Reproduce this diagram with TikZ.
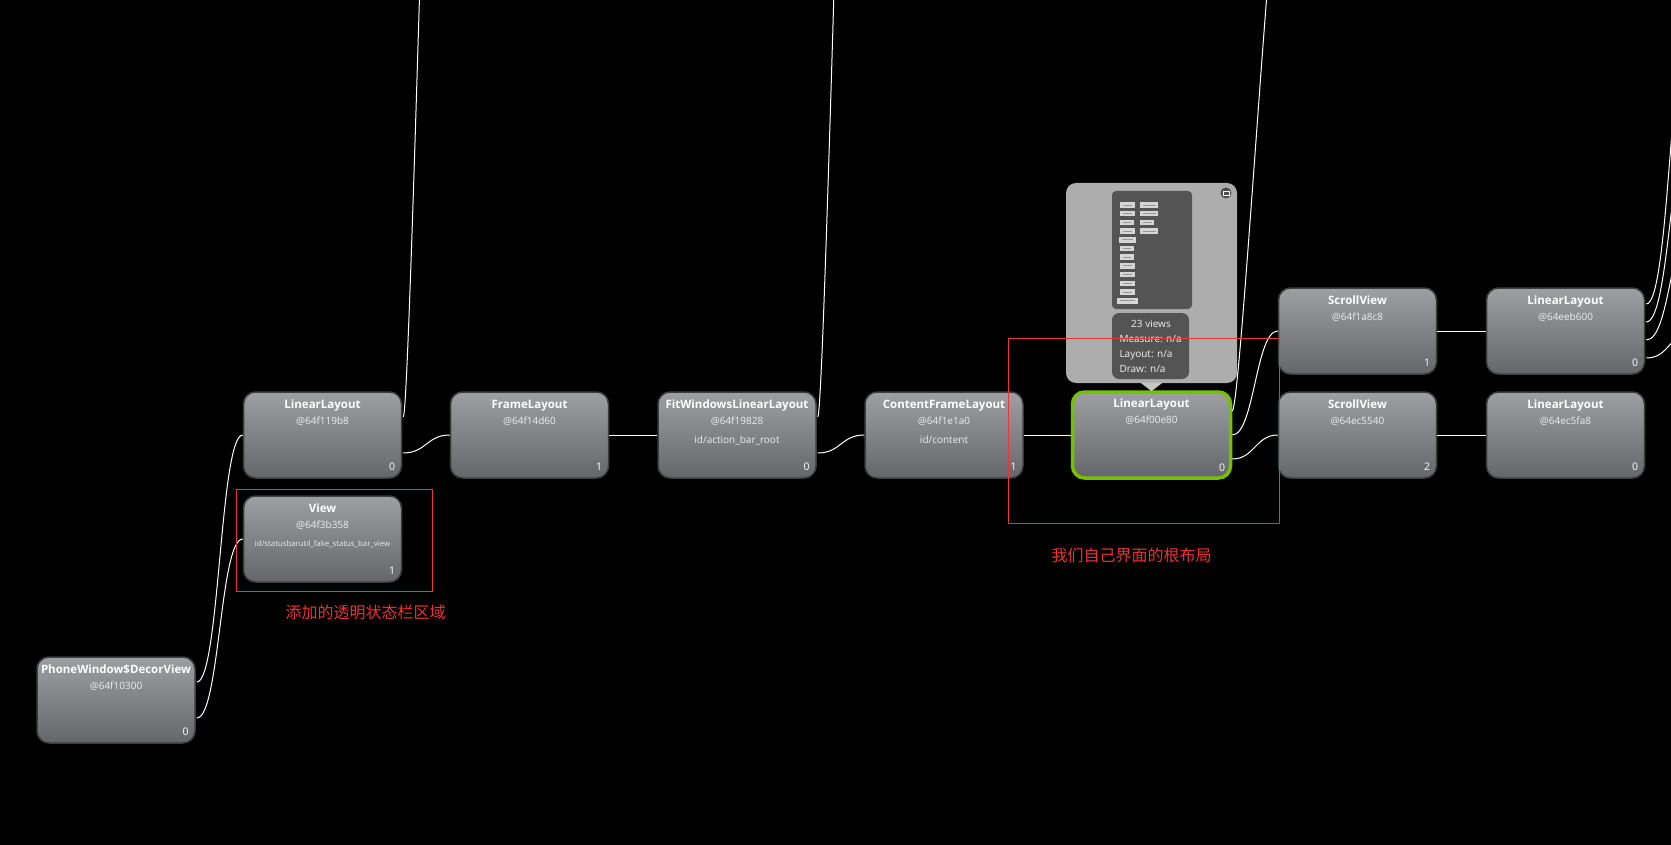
\documentclass[tikz,border=0pt]{standalone}
\usepackage{fontspec}
\setmainfont{Open Sans}
\newfontfamily\cjkfont{Noto Sans CJK SC}
\usetikzlibrary{calc}
\definecolor{hvtop}{RGB}{157,159,162}
\definecolor{hvbot}{RGB}{100,102,106}
\definecolor{hvedge}{RGB}{60,61,63}
\definecolor{hvgreen}{RGB}{118,192,0}
\definecolor{hvred}{RGB}{235,52,52}
\definecolor{tipgray}{RGB}{173,173,173}
\definecolor{tipdark}{RGB}{84,84,84}
\definecolor{minibox}{RGB}{214,214,214}
\definecolor{miniink}{RGB}{150,150,150}
\tikzset{
  hvbox/.style={rectangle, rounded corners=12pt, minimum width=158pt, minimum height=86pt,
    top color=hvtop, bottom color=hvbot, draw=hvedge, line width=1.5pt, inner sep=0pt},
  hvsel/.style={draw=hvgreen, line width=3.5pt},
  hvtitle/.style={text=white, font=\fontsize{11.5}{13}\selectfont\bfseries, inner sep=0pt, anchor=base},
  hvaddr/.style={text=white!93!black, font=\fontsize{10}{12}\selectfont, inner sep=0pt, anchor=base},
  hvid/.style={text=white!93!black, font=\fontsize{10}{12}\selectfont, inner sep=0pt, anchor=base},
  hvidsmall/.style={text=white!93!black, font=\fontsize{7.8}{9}\selectfont, inner sep=0pt, anchor=base},
  hvidx/.style={text=white, font=\fontsize{10.5}{12}\selectfont, inner sep=0pt, anchor=base east},
  conn/.style={draw=white, line width=1pt},
  redbox/.style={draw=hvred, line width=1pt, rectangle, inner sep=0pt},
  redtext/.style={text=hvred, font=\cjkfont\fontsize{16}{18}\selectfont, inner sep=0pt},
  tipbox/.style={rectangle, fill=tipgray, rounded corners=10pt, inner sep=0pt},
  darkbox/.style={rectangle, fill=tipdark, inner sep=0pt},
  stattext/.style={text=white!95!black, font=\fontsize{10}{12}\selectfont, inner sep=0pt},
}
\newcommand\hvnode[6][]{%
  \node[hvbox,#1] (#2) at #3 {};
  \node[hvtitle] (#2t) at ([yshift=-17.5pt]#2.north) {#4};
  \node[hvaddr] (#2a) at ([yshift=-33.5pt]#2.north) {#5};
  \node[hvidx] (#2n) at ([xshift=-7pt,yshift=8pt]#2.south east) {#6};
}
\begin{document}
\begin{tikzpicture}[x=1pt,y=-1pt]
\clip (0,0) rectangle (1671,845);
\fill[black] (0,0) rectangle (1671,845);

% nodes
\hvnode{PW}{(116,700)}{PhoneWindow\$DecorView}{@64f10300}{0}
\hvnode{LLa}{(322.5,435)}{LinearLayout}{@64f119b8}{0}
\hvnode{V}{(322.5,539)}{View}{@64f3b358}{1}
\node[hvidsmall] (Vi) at ([yshift=-51pt]V.north) {id/statusbarutil\_fake\_status\_bar\_view};
\hvnode{FL}{(529.5,435)}{FrameLayout}{@64f14d60}{1}
\hvnode{FW}{(737,435)}{FitWindowsLinearLayout}{@64f19828}{0}
\node[hvid] (FWi) at ([yshift=-52pt]FW.north) {id/action\_bar\_root};
\hvnode{CF}{(944,435)}{ContentFrameLayout}{@64f1e1a0}{1}
\node[hvid] (CFi) at ([yshift=-52pt]CF.north) {id/content};
\hvnode[hvsel]{LLb}{(1151.5,435)}{LinearLayout}{@64f00e80}{0}
\hvnode{SVa}{(1357.5,331)}{ScrollView}{@64f1a8c8}{1}
\hvnode{SVb}{(1357.5,435)}{ScrollView}{@64ec5540}{2}
\hvnode{LLc}{(1565.5,331)}{LinearLayout}{@64eeb600}{0}
\hvnode{LLd}{(1565.5,435)}{LinearLayout}{@64ec5fa8}{0}

% off-picture children
\coordinate (offA) at (451,-940);
\coordinate (offB) at (865,-940);
\coordinate (offC) at (1279,-120);
\coordinate (offD1) at (1694,6);
\coordinate (offD2) at (1694,122);
\coordinate (offD3) at (1694,226);
\coordinate (offD4) at (1694,331);

% connectors
\draw[conn] ($(PW.east)+(1,-18)$) .. controls +(23,0) and +(-23,0) .. (LLa.west);
\draw[conn] ($(PW.east)+(1,18)$) .. controls +(23,0) and +(-23,0) .. (V.west);
\draw[conn] ($(LLa.east)+(1,-18)$) .. controls +(8,0) and +(-8,0) .. (offA);
\draw[conn] ($(LLa.east)+(1,18)$) .. controls +(23,0) and +(-23,0) .. (FL.west);
\draw[conn] (FL.east) -- (FW.west);
\draw[conn] ($(FW.east)+(1,-18)$) .. controls +(8,0) and +(-8,0) .. (offB);
\draw[conn] ($(FW.east)+(1,18)$) .. controls +(23,0) and +(-23,0) .. (CF.west);
\draw[conn] (CF.east) -- (LLb.west);
\draw[conn] ($(LLb.east)+(0,-24)$) .. controls +(8,0) and +(-8,0) .. (offC);
\draw[conn] (LLb.east) .. controls +(22,0) and +(-22,0) .. (SVa.west);
\draw[conn] ($(LLb.east)+(0,24)$) .. controls +(22,0) and +(-22,0) .. (SVb.west);
\draw[conn] (SVa.east) -- (LLc.west);
\draw[conn] (SVb.east) -- (LLd.west);
\draw[conn] ($(LLc.east)+(1,-27)$) .. controls +(24,0) and +(-24,0) .. (offD1);
\draw[conn] ($(LLc.east)+(1,-9)$) .. controls +(24,0) and +(-24,0) .. (offD2);
\draw[conn] ($(LLc.east)+(1,9)$) .. controls +(24,0) and +(-24,0) .. (offD3);
\draw[conn] ($(LLc.east)+(1,27)$) .. controls +(24,0) and +(-24,0) .. (offD4);

% tooltip
\node[tipbox, minimum width=171pt, minimum height=200pt] (tip) at (1151.5,283) {};
\fill[tipgray!70!white] ($(tip.south)+(-11,-0.5)$) -- ($(tip.south)+(0,8)$) -- ($(tip.south)+(11,-0.5)$) -- cycle;
\node[darkbox, rounded corners=4pt, minimum width=80pt, minimum height=118pt] (prev) at (1152,250) {};
\foreach \k/\a/\b in {0/1120/1135,1/1120/1135,2/1120/1134,3/1120/1135,4/1119/1136,5/1120/1134,
                      6/1120/1134,7/1120/1135,8/1120/1135,9/1120/1135,10/1120/1135,11/1117/1138}{
  \fill[minibox] (\a,{202.3+8.7*\k}) rectangle (\b,{207.8+8.7*\k});
  \draw[miniink, line width=0.8pt] ({\a+3},{205+8.7*\k}) -- ({\b-3},{205+8.7*\k});
}
\foreach \k/\a/\b in {0/1140/1158,1/1140/1158,2/1140/1154,3/1140/1158}{
  \fill[minibox] (\a,{202.3+8.7*\k}) rectangle (\b,{207.8+8.7*\k});
  \draw[miniink, line width=0.8pt] ({\a+2.5},{205+8.7*\k}) -- ({\b-2.5},{205+8.7*\k});
}
\node[darkbox, rounded corners=7pt, minimum width=77pt, minimum height=66pt] (stats) at (1150.5,346) {};
\node[stattext, anchor=base] (s1) at (1151,327) {23 views};
\node[stattext, anchor=base west] (s2) at (1119.3,342.7) {Measure: n/a};
\node[stattext, anchor=base west] (s3) at (1119.3,357.7) {Layout: n/a};
\node[stattext, anchor=base west] (s4) at (1119.3,372.7) {Draw: n/a};
\node[circle, fill=tipdark!90!black, minimum size=11pt, inner sep=0pt] (icon) at (1226,193) {};
\draw[white, line width=0.9pt] ($(icon)+(-3,-1.6)$) rectangle ($(icon)+(3,2)$);

% annotations
\node[redbox, minimum width=196pt, minimum height=102pt] (R1) at (334,540) {};
\node[redbox, minimum width=271pt, minimum height=185pt] (R2) at (1143.5,430.5) {};
\node[redtext] (L1) at (365.5,612) {添加的透明状态栏区域};
\node[redtext] (L2) at (1131.5,555) {我们自己界面的根布局};
\end{tikzpicture}
\end{document}
